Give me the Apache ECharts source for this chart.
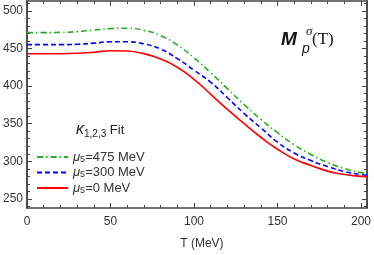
<!DOCTYPE html>
<html>
<head>
<meta charset="utf-8">
<script src="https://cdn.jsdelivr.net/npm/echarts@6/dist/echarts.min.js"></script>
<style>html,body{margin:0;padding:0;background:#fff;}#c{width:374px;height:255px;}</style>
</head>
<body>
<div id="c"></div>
<script>
// Temperature grid (MeV)
const temps = [0,10,20,30,40,50,60,70,80,90,100,110,120,130,140,150,160,170,180,190,200,203.5];
// M_p^sigma(T) for mu5 = 0 MeV
const mu0 = [443,443,443,443.5,445,447,446.5,443,436,425,409,389,369,350,332,316,303,294.5,287,282.5,280,279.5];
// mu5 = 300 MeV
const mu300 = [455,455,455,455.5,457,458.8,458.8,456,449,436.5,421,405,384.5,363.5,344.5,325.5,311,301,293,286.5,282.3,281.5];
// mu5 = 475 MeV
const mu475 = [471,471,471.3,472.3,474.3,476.3,476.8,474,467,454.5,437.5,417.5,396.5,375.5,356,338,322,309,298.5,290.5,285,284];
const seriesNames = ['μ5=475 MeV','μ5=300 MeV','μ5=0 MeV'];
const xTicks = [0,50,100,150,200];
const yTicks = [250,300,350,400,450,500];
const yMinor = [240,250,260,270,280,290,300,310,320,330,340,350,360,370,380,390,400,410,420,430,440,450,460,470,480,490,500,510];

const pairs = arr => temps.map((t,i)=>[t,arr[i]]);
const frame = '#444';
const font = 'Liberation Sans, Arial, sans-serif';

const chart = echarts.init(document.getElementById('c'), null, {renderer:'canvas'});
const xBase = {type:'value', min:0, max:203.5, interval:50, splitLine:{show:false},
  axisLine:{show:true, lineStyle:{color:frame, width:1.5}},
  axisTick:{show:true, inside:true, length:5, lineStyle:{color:frame}},
  minorTick:{show:true, splitNumber:5, length:3, lineStyle:{color:frame}},
  minorSplitLine:{show:false}};
const yBase = {type:'value', min:238, max:513, splitLine:{show:false},
  axisLine:{show:true, lineStyle:{color:frame, width:1.5}}};

chart.setOption({
  animation:false,
  grid:{left:25, right:6, top:1, bottom:42},
  xAxis:[
    Object.assign({}, xBase, {position:'bottom',
      axisLabel:{show:true, color:'#333', fontSize:12, fontFamily:font, margin:8, customValues: xTicks},
      name:'T (MeV)', nameLocation:'middle', nameGap:30,
      nameTextStyle:{color:'#333', fontSize:12, fontFamily:font, padding:[0,0,0,10]}}),
    Object.assign({}, xBase, {position:'top', axisLabel:{show:false}})
  ],
  yAxis:[
    Object.assign({}, yBase, {position:'left',
      axisTick:{show:true, inside:true, length:5, customValues:yTicks, lineStyle:{color:frame}},
      axisLabel:{show:true, color:'#333', fontSize:12, fontFamily:font, margin:4, customValues:yTicks}}),
    Object.assign({}, yBase, {position:'left',
      axisTick:{show:true, inside:true, length:3, customValues:yMinor, lineStyle:{color:frame}},
      axisLabel:{show:false}}),
    Object.assign({}, yBase, {position:'right',
      axisTick:{show:true, inside:true, length:5, customValues:yTicks, lineStyle:{color:frame}},
      axisLabel:{show:false}}),
    Object.assign({}, yBase, {position:'right',
      axisTick:{show:true, inside:true, length:3, customValues:yMinor, lineStyle:{color:frame}},
      axisLabel:{show:false}})
  ],
  legend:{
    orient:'vertical', left:36, top:150, itemWidth:31, itemHeight:10, itemGap:1.5, padding:0,
    data:seriesNames,
    itemStyle:{opacity:0},
    formatter: n => n.replace('μ5', '{m|μ}{s|5}'),
    textStyle:{color:'#333', fontSize:13, fontFamily:font, lineHeight:14,
      rich:{m:{fontSize:13, lineHeight:14, fontStyle:'italic', fontFamily:font, color:'#333'},
            s:{fontSize:9, lineHeight:14, verticalAlign:'bottom', padding:[4,0,0,0], fontFamily:font, color:'#333'}}}
  },
  series:[
    {name:seriesNames[0], type:'line', smooth:true, symbol:'none', data:pairs(mu475),
      lineStyle:{color:'#22b022', width:1.6, type:[6,3,1.5,3]}, itemStyle:{color:'#22b022'}, z:3},
    {name:seriesNames[1], type:'line', smooth:true, symbol:'none', data:pairs(mu300),
      lineStyle:{color:'#0000ff', width:1.6, type:[5,3]}, itemStyle:{color:'#0000ff'}, z:4},
    {name:seriesNames[2], type:'line', smooth:true, symbol:'none', data:pairs(mu0),
      lineStyle:{color:'#ff0000', width:1.6, type:'solid'}, itemStyle:{color:'#ff0000'}, z:5}
  ],
  graphic:[
    {type:'text', left:76, top:122, style:{text:'{k|κ}{s|1,2,3} Fit', fill:'#222',
      rich:{k:{fontSize:16, fontStyle:'italic', fontFamily:font, fill:'#222'},
            s:{fontSize:10, fontFamily:font, padding:[8,0,0,0], fill:'#222'}},
      fontSize:13, fontFamily:font}},
    {type:'text', x:281, y:30, style:{text:'M', fontSize:19, fontStyle:'italic', fontWeight:'bold', fontFamily:font, fill:'#111'}},
    {type:'text', x:302, y:42, style:{text:'p', fontSize:14, fontStyle:'italic', fontFamily:font, fill:'#111'}},
    {type:'text', x:306, y:25, style:{text:'σ', fontSize:13, fontStyle:'italic', fontFamily:'Liberation Serif, serif', fill:'#111'}},
    {type:'text', x:312, y:31, style:{text:'(T)', fontSize:17, fontFamily:'Liberation Serif, serif', fill:'#111'}}
  ]
});
</script>
</body>
</html>
